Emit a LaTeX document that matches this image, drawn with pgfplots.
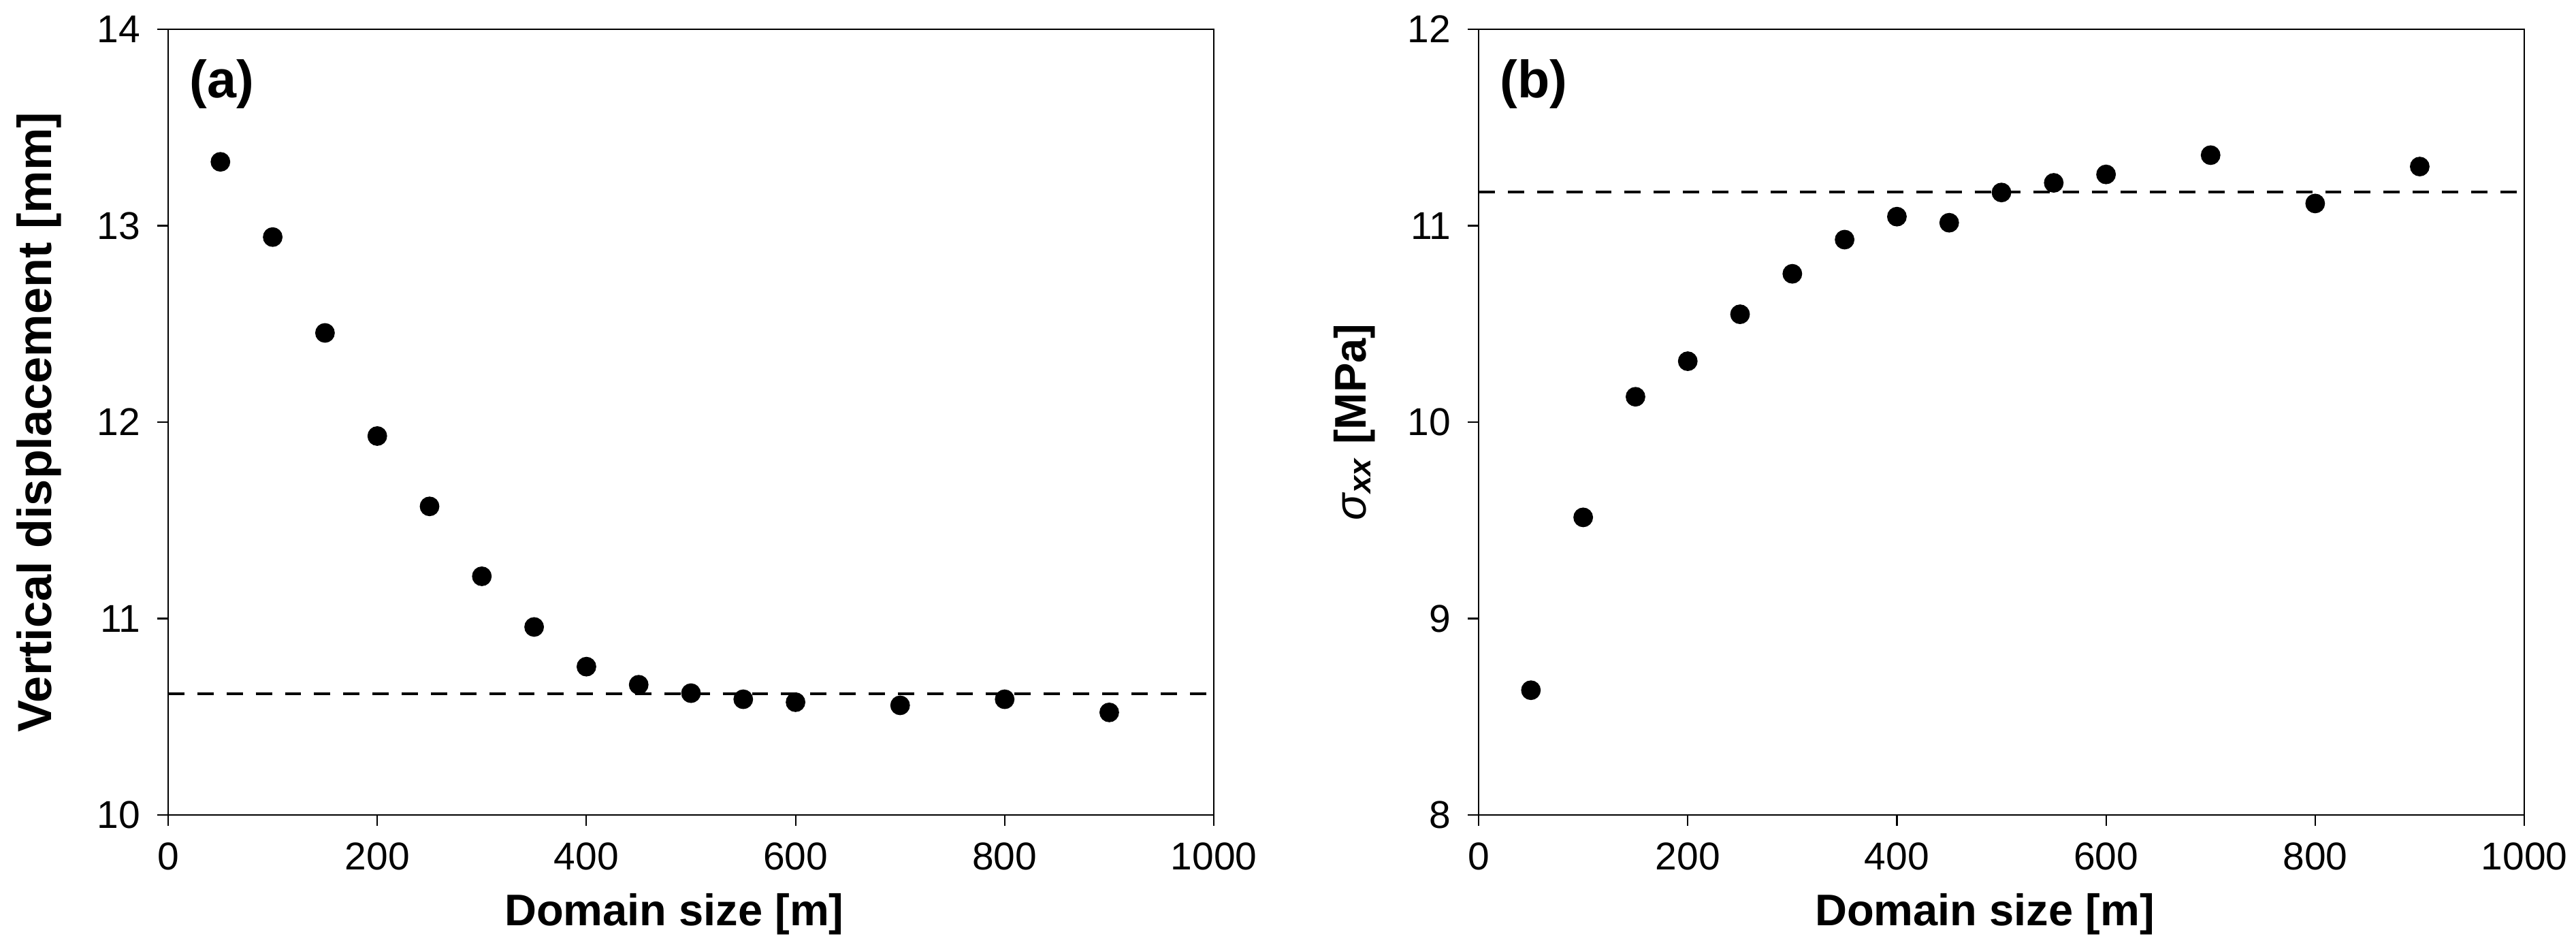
\documentclass[border=0pt]{standalone}
\usepackage{fontspec}
\setmainfont{Liberation Sans}
\usepackage{pgfplots}
\pgfplotsset{compat=1.18}

\pgfplotsset{
  domainplot/.style={
    scale only axis,
    width=7.68cm, height=5.77cm,
    xmin=0, xmax=1000,
    xtick={0,200,...,1000},
    tick align=outside,
    tick pos=left,
    major tick length=0.08cm,
    axis line style={line width=0.3pt},
    every tick/.style={black, line width=0.3pt},
    tick label style={font=\fontsize{8.1}{9.5}\selectfont},
    /pgf/number format/assume math mode=true,
    /pgf/number format/1000 sep={},
    label style={font=\fontsize{9.25}{11}\selectfont\bfseries},
    xlabel={Domain size [m]},
    xlabel style={at={(axis description cs:0.484,-0.1404)}, anchor=base},
    ylabel style={at={(axis description cs:-0.1237,0.5)}, anchor=center},
  },
  pts/.style={only marks, mark=*, mark size=1.85pt, black},
  ref/.style={black, line width=0.6pt, dash pattern=on 3.4pt off 2.7pt},
}

\begin{document}
\begin{tikzpicture}
\useasboundingbox (-1.235cm,-0.955cm) rectangle (17.685cm,5.985cm);

% (a) vertical displacement
\begin{axis}[
    domainplot,
    at={(0,0)}, anchor=south west,
    ymin=10, ymax=14, ytick={10,11,...,14},
    ylabel={Vertical displacement [mm]},
    ylabel style={font=\fontsize{10}{12}\selectfont\bfseries},
]
\addplot[ref] coordinates {(0,10.618) (1000,10.618)};
\addplot[pts] coordinates {
    (50,13.325) (100,12.942) (150,12.454) (200,11.929) (250,11.571)
    (300,11.215) (350,10.957) (400,10.755) (450,10.663) (500,10.620)
    (550,10.589) (600,10.574) (700,10.558) (800,10.589) (900,10.522)
};
\node[anchor=base west, inner sep=0pt, font=\fontsize{11}{13}\selectfont\bfseries]
    at (axis description cs:0.0195,0.9133) {(a)};
\end{axis}

% (b) horizontal stress
\begin{axis}[
    domainplot,
    at={(9.625cm,0)}, anchor=south west,
    ymin=8, ymax=12, ytick={8,9,...,12},
    ylabel={{\mdseries\itshape σ}\textsubscript{\itshape xx} [MPa]},
    ylabel style={at={(axis description cs:-0.1185,0.5)}},
]
\addplot[ref] coordinates {(0,11.172) (1000,11.172)};
\addplot[pts] coordinates {
    (50,8.635) (100,9.515) (150,10.129) (200,10.310) (250,10.549)
    (300,10.755) (350,10.929) (400,11.046) (450,11.015) (500,11.169)
    (550,11.218) (600,11.261) (700,11.359) (800,11.113) (900,11.301)
};
\node[anchor=base west, inner sep=0pt, font=\fontsize{11}{13}\selectfont\bfseries]
    at (axis description cs:0.0195,0.9133) {(b)};
\end{axis}
\end{tikzpicture}
\end{document}
